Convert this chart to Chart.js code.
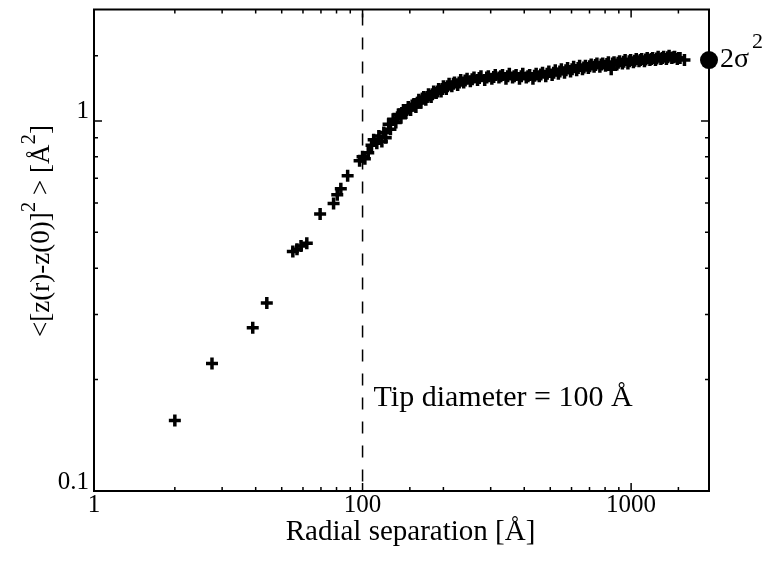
<!DOCTYPE html>
<html>
<head>
<meta charset="utf-8">
<script src="https://cdn.jsdelivr.net/npm/chart.js@4.4.1/dist/chart.umd.min.js"></script>
<style>
  html, body { margin: 0; padding: 0; background: #fff; }
</style>
</head>
<body>
<canvas id="roughChart" width="775" height="562"></canvas>
<script>
// radial separation r [Å] and <[z(r)-z(0)]^2> [Å^2]
const radius = [
  20, 27.5, 39, 44, 55, 57, 59, 62, 69.5, 78, 80.5, 83, 88, 97.5,
  100, 102, 105, 108, 110, 113, 115, 118, 120, 122,
  125, 127, 130, 133, 136, 139, 142, 145, 148, 151,
  155, 158, 162, 165, 169, 172, 176, 180, 184, 188,
  192, 196, 200, 205, 210, 215, 220, 226, 232, 238,
  245, 252, 260, 268, 276, 285, 294, 303, 312, 322,
  332, 342, 352, 362, 373, 384, 395, 407, 419, 431,
  443, 455, 468, 481, 494, 508, 522, 536, 550, 565,
  580, 595, 611, 627, 643, 659, 676, 693, 710, 728,
  746, 765, 784, 803, 823, 843, 864, 885, 906, 928,
  950, 973, 996, 1020, 1045, 1070, 1095, 1121, 1148, 1175,
  1203, 1232, 1261, 1291, 1322, 1353, 1385, 1418, 1452, 1486,
  1521, 1580,
  140, 146, 153, 160, 167, 174, 182, 190, 198, 207,
  218, 229, 241, 256, 272, 290, 308, 327, 347, 367,
  390, 413, 437, 461, 487, 515, 543, 572, 603, 635,
  667, 701, 737, 774, 813, 853, 895, 939, 984, 1032,
  1082, 1134, 1189, 1246, 1306, 1369, 1435, 1503
];
const heightDiff = [
  0.155, 0.221, 0.276, 0.322, 0.444, 0.450, 0.459, 0.467, 0.560, 0.598, 0.632, 0.656, 0.711, 0.780,
  0.80, 0.79, 0.82, 0.86, 0.89, 0.87, 0.91, 0.88, 0.93, 0.90,
  0.98, 0.95, 1.01, 0.99, 1.04, 1.02, 1.07, 1.05, 1.09, 1.07,
  1.11, 1.09, 1.14, 1.12, 1.16, 1.14, 1.18, 1.16, 1.20, 1.19,
  1.22, 1.20, 1.24, 1.22, 1.26, 1.24, 1.27, 1.25, 1.29, 1.27,
  1.30, 1.28, 1.31, 1.29, 1.32, 1.29, 1.32, 1.30, 1.33, 1.31,
  1.33, 1.30, 1.34, 1.31, 1.33, 1.30, 1.34, 1.31, 1.33, 1.30,
  1.34, 1.32, 1.35, 1.32, 1.36, 1.33, 1.37, 1.34, 1.38, 1.35,
  1.39, 1.36, 1.40, 1.37, 1.41, 1.38, 1.41, 1.39, 1.42, 1.40,
  1.43, 1.40, 1.43, 1.41, 1.44, 1.38, 1.44, 1.42, 1.45, 1.43,
  1.46, 1.43, 1.46, 1.44, 1.47, 1.45, 1.47, 1.45, 1.48, 1.46,
  1.48, 1.46, 1.49, 1.47, 1.49, 1.47, 1.50, 1.48, 1.49, 1.47,
  1.48, 1.46,
  1.05, 1.07, 1.10, 1.12, 1.15, 1.16, 1.18, 1.20, 1.22, 1.24,
  1.26, 1.27, 1.285, 1.295, 1.305, 1.31, 1.315, 1.32, 1.32, 1.32,
  1.32, 1.32, 1.325, 1.335, 1.34, 1.35, 1.36, 1.37, 1.38, 1.39,
  1.395, 1.405, 1.415, 1.42, 1.425, 1.43, 1.435, 1.445, 1.45, 1.455,
  1.46, 1.465, 1.47, 1.475, 1.48, 1.485, 1.485, 1.48
];

const twoSigmaSq = 1.46;   // saturation level, marked on the right axis
const tipDiameter = 100;   // Å
const tipLabelLevel = 0.17;

const xTickValues = [10, 100, 1000];
const xTickTexts = ["1", "100", "1000"];
const yTickValues = [0.1, 1];
const yTickTexts = ["0.1", "1"];

const serif = '"Liberation Serif", "Times New Roman", serif';
Chart.defaults.font.family = serif;
Chart.defaults.color = "#000";

function findLabel(value, values, texts) {
  for (let i = 0; i < values.length; i++) {
    if (Math.abs(value / values[i] - 1) < 1e-6) return texts[i];
  }
  return null;
}

function isDecade(v) {
  const l = Math.log10(v);
  return Math.abs(l - Math.round(l)) < 1e-6;
}

// inward ticks on all four sides, frame, dashed tip line and annotations
const frameTicks = {
  id: "frameTicks",
  afterDatasetsDraw(chart) {
    const { ctx, chartArea: a, scales: { x, y } } = chart;
    ctx.save();
    ctx.strokeStyle = "#000";
    ctx.fillStyle = "#000";

    const xd = x.getPixelForValue(tipDiameter);
    ctx.lineWidth = 1.5;
    ctx.setLineDash([12, 12]);
    ctx.beginPath();
    ctx.moveTo(xd, a.top + 4);
    ctx.lineTo(xd, a.bottom);
    ctx.stroke();
    ctx.setLineDash([]);

    ctx.lineWidth = 1.5;
    ctx.beginPath();
    x.allTicks.forEach(t => {
      if (t.value <= x.min * 1.001 || t.value >= x.max * 0.999) return;
      const px = x.getPixelForValue(t.value);
      const len = isDecade(t.value) ? 8 : 4;
      ctx.moveTo(px, a.bottom); ctx.lineTo(px, a.bottom - len);
      ctx.moveTo(px, a.top); ctx.lineTo(px, a.top + len);
    });
    y.allTicks.forEach(t => {
      if (t.value <= y.min * 1.001 || t.value >= y.max * 0.999) return;
      const py = y.getPixelForValue(t.value);
      const len = isDecade(t.value) ? 8 : 4;
      ctx.moveTo(a.left, py); ctx.lineTo(a.left + len, py);
      ctx.moveTo(a.right, py); ctx.lineTo(a.right - len, py);
    });
    ctx.stroke();

    ctx.lineWidth = 2;
    ctx.strokeRect(a.left, a.top, a.right - a.left, a.bottom - a.top);

    // tip diameter note
    ctx.font = "30px " + serif;
    ctx.textAlign = "left";
    ctx.textBaseline = "alphabetic";
    ctx.fillText("Tip diameter = 100 Å", xd + 11, y.getPixelForValue(tipLabelLevel));

    // 2σ² label next to the marker
    const ys = y.getPixelForValue(twoSigmaSq);
    ctx.font = "28px " + serif;
    ctx.fillText("2σ", a.right + 11, ys + 7);
    const w = ctx.measureText("2σ").width;
    ctx.font = "22px " + serif;
    ctx.fillText("2", a.right + 11 + w + 3, ys - 12);

    // x title
    ctx.font = "29px " + serif;
    ctx.textAlign = "center";
    ctx.fillText("Radial separation [Å]", (a.left + a.right) / 2 + 9, 540);

    // y title, rotated, with raised exponents
    const parts = [
      ["<[z(r)-z(0)]", false], ["2", true], [" > [Å", false], ["2", true], ["]", false]
    ];
    const mainFont = "27px " + serif;
    const supFont = "21px " + serif;
    let total = 0;
    parts.forEach(p => { ctx.font = p[1] ? supFont : mainFont; total += ctx.measureText(p[0]).width; });
    ctx.translate(49, 231);
    ctx.rotate(-Math.PI / 2);
    ctx.textAlign = "left";
    let cx = -total / 2;
    parts.forEach(p => {
      ctx.font = p[1] ? supFont : mainFont;
      ctx.fillText(p[0], cx, p[1] ? -14 : 0);
      cx += ctx.measureText(p[0]).width;
    });
    ctx.restore();
  }
};

const points = radius.map((r, i) => ({ x: r, y: heightDiff[i] }));
const keepTicks = s => { s.allTicks = s.ticks.slice(); };

const ctx = document.getElementById("roughChart").getContext("2d");
const roughChart = new Chart(ctx, {
  type: "scatter",
  data: {
    datasets: [{
      label: "<[z(r)-z(0)]²>",
      data: points,
      pointStyle: "cross",
      pointRadius: 6,
      borderWidth: 3.5,
      borderColor: "#000",
      backgroundColor: "#000",
    }, {
      label: "2σ²",
      data: [{ x: 1950, y: twoSigmaSq }],
      pointStyle: "circle",
      pointRadius: 9,
      borderWidth: 0,
      backgroundColor: "#000",
      clip: false,
    }],
  },
  options: {
    responsive: false,
    animation: false,
    layout: { padding: { left: 0, right: 66, top: 8, bottom: 0 } },
    plugins: {
      legend: { display: false },
      tooltip: { enabled: false },
    },
    scales: {
      x: {
        type: "logarithmic",
        min: 10,
        max: 1950,
        grid: { display: false, drawTicks: false },
        border: { display: false },
        afterBuildTicks: keepTicks,
        ticks: {
          autoSkip: false,
          maxRotation: 0,
          padding: 2,
          font: { size: 25, lineHeight: 1 },
          callback: v => findLabel(v, xTickValues, xTickTexts),
        },
        afterFit: s => {
          s.height = 71;
          s.paddingLeft = 0; s.paddingRight = 0;
        },
      },
      y: {
        type: "logarithmic",
        min: 0.1,
        max: 2,
        grid: { display: false, drawTicks: false },
        border: { display: false },
        afterBuildTicks: keepTicks,
        ticks: {
          autoSkip: false,
          padding: 5,
          labelOffset: -9,
          font: { size: 25, lineHeight: 1 },
          callback: v => findLabel(v, yTickValues, yTickTexts),
        },
        afterFit: s => {
          s.width = 94;
          s.paddingTop = 0; s.paddingBottom = 0;
        },
      },
    },
  },
  plugins: [frameTicks],
});
</script>
</body>
</html>
